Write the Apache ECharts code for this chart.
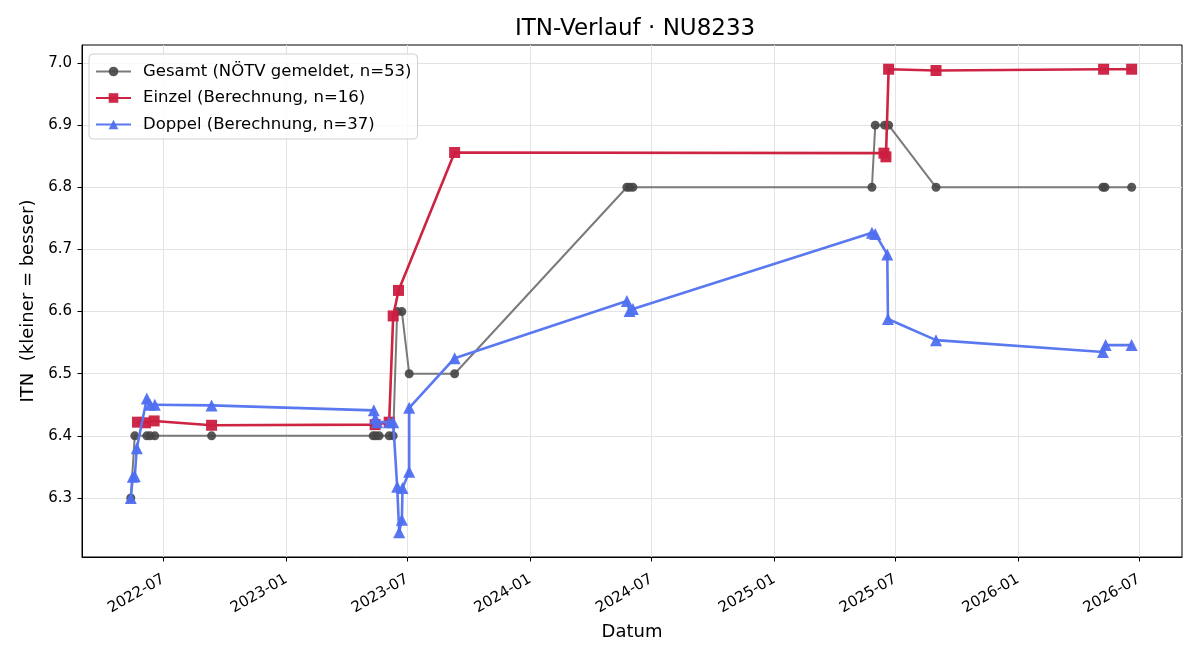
<!DOCTYPE html>
<html><head><meta charset="utf-8">
<script src="https://cdn.jsdelivr.net/npm/echarts@6/dist/echarts.min.js"></script>
<style>html,body{margin:0;padding:0;background:#fff}#c{width:1200px;height:660px}</style>
</head><body><div id="c"></div>
<script>
// Data
const gesamtDates = ['2022-05-13','2022-05-19','2022-06-06','2022-06-11','2022-06-18','2022-09-11',
  '2023-05-11','2023-05-15','2023-05-20','2023-06-04','2023-06-10','2023-06-16','2023-06-23','2023-07-04','2023-09-10',
  '2024-05-25','2024-05-29','2024-06-03',
  '2025-05-27','2025-06-01','2025-06-15','2025-06-21','2025-08-31',
  '2026-05-08','2026-05-11','2026-06-20'];
const gesamtValues = [6.3,6.4,6.4,6.4,6.4,6.4,
  6.4,6.4,6.4,6.4,6.4,6.6,6.6,6.5,6.5,
  6.8,6.8,6.8,
  6.8,6.9,6.9,6.9,6.8,
  6.8,6.8,6.8];

const einzelDates = ['2022-05-23','2022-06-04','2022-06-17','2022-09-11',
  '2023-05-14','2023-06-04','2023-06-10','2023-06-18','2023-09-10',
  '2025-06-14','2025-06-17','2025-06-21','2025-08-31','2026-05-09','2026-06-20'];
const einzelValues = [6.422,6.421,6.424,6.417,
  6.418,6.422,6.593,6.634,6.856,
  6.855,6.849,6.990,6.988,6.990,6.990];

const doppelDates = ['2022-05-13','2022-05-16','2022-05-19','2022-05-22','2022-06-06','2022-06-11','2022-06-18','2022-09-11',
  '2023-05-12','2023-05-14','2023-05-17','2023-06-04','2023-06-10','2023-06-16','2023-06-19','2023-06-23','2023-06-24','2023-07-04','2023-07-04','2023-09-10',
  '2024-05-25','2024-05-29','2024-06-03',
  '2025-05-27','2025-06-01','2025-06-19','2025-06-20','2025-08-31',
  '2026-05-08','2026-05-12','2026-06-20'];
const doppelValues = [6.30,6.334,6.335,6.38,6.46,6.45,6.45,6.449,
  6.441,6.428,6.422,6.422,6.422,6.318,6.245,6.265,6.316,6.342,6.445,6.525,
  6.617,6.601,6.604,
  6.727,6.725,6.692,6.588,6.554,
  6.535,6.546,6.546];

const xTickLabels = ['2022-07','2023-01','2023-07','2024-01','2024-07','2025-01','2025-07','2026-01','2026-07'];
const yTickValues = [6.3,6.4,6.5,6.6,6.7,6.8,6.9,7.0];

const seriesNames = ['Gesamt (NÖTV gemeldet, n=53)','Einzel (Berechnung, n=16)','Doppel (Berechnung, n=37)'];

function ts(s){ const p=s.split('-').map(Number); return Date.UTC(p[0],p[1]-1,p[2]||1); }
function pairs(d,v){ return d.map((x,i)=>[ts(x),v[i]]); }
const xTicks = xTickLabels.map(ts);
const DAY = 86400000;
const xMin = ts('2022-07-01') - 122.06*DAY;
const xMax = ts('2026-07-01') + 64.4*DAY;

const font = 'DejaVu Sans';
const chart = echarts.init(document.getElementById('c'));
chart.setOption({
  animation:false,
  backgroundColor:'#fff',
  title:{text:'ITN-Verlauf · NU8233',left:510,top:13,textStyle:{fontFamily:font,fontSize:23,fontWeight:'normal',color:'#000'}},
  legend:{orient:'vertical',left:89,top:54,padding:[9,6,6,6],itemGap:9.5,itemWidth:35,itemHeight:12,
    backgroundColor:'rgba(255,255,255,0.8)',borderColor:'#d0d0d0',borderWidth:1,borderRadius:4,
    textStyle:{fontFamily:font,fontSize:16.5,color:'#000',padding:[0,0,0,7]},data:seriesNames},
  grid:{left:82,right:18,top:45,bottom:103,show:true,borderColor:'#000',borderWidth:1,backgroundColor:'transparent'},
  xAxis:{type:'value',min:xMin,max:xMax,
    name:'Datum',nameLocation:'middle',nameGap:66,nameTextStyle:{fontFamily:font,fontSize:18,color:'#000'},
    axisLine:{show:true,lineStyle:{color:'#000',width:1}},
    axisTick:{show:true,length:4.5,lineStyle:{color:'#000'},customValues:xTicks},
    axisLabel:{customValues:xTicks,rotate:30,fontFamily:font,fontSize:15,color:'#000',margin:21,
      formatter:function(v){const d=new Date(v);return d.getUTCFullYear()+'-'+String(d.getUTCMonth()+1).padStart(2,'0');}},
    splitLine:{show:true,lineStyle:{color:'#e3e3e3',width:1}}},
  yAxis:{type:'value',min:6.205,max:7.029,
    name:'ITN  (kleiner = besser)',nameLocation:'middle',nameGap:45,nameTextStyle:{fontFamily:font,fontSize:18,color:'#000'},
    axisLine:{show:true,lineStyle:{color:'#000',width:1}},
    axisTick:{show:true,length:4.5,lineStyle:{color:'#000'},customValues:yTickValues},
    axisLabel:{customValues:yTickValues,fontFamily:font,fontSize:15,color:'#000',margin:10,formatter:v=>v.toFixed(1)},
    splitLine:{show:true,lineStyle:{color:'#e3e3e3',width:1}}},
  series:[
    {name:seriesNames[0],type:'line',data:pairs(gesamtDates,gesamtValues),symbol:'circle',symbolSize:9,
      lineStyle:{color:'#7a7a7a',width:2},itemStyle:{color:'#454545',opacity:0.9},z:2},
    {name:seriesNames[1],type:'line',data:pairs(einzelDates,einzelValues),symbol:'rect',symbolSize:11,
      lineStyle:{color:'#cc2442',width:2.6},itemStyle:{color:'#cc1e40',opacity:0.95},z:3},
    {name:seriesNames[2],type:'line',data:pairs(doppelDates,doppelValues),symbol:'triangle',symbolSize:12,
      lineStyle:{color:'#5a78f0',width:2.6},itemStyle:{color:'#4f6ff0',opacity:0.95},z:4}
  ]
});
</script></body></html>
